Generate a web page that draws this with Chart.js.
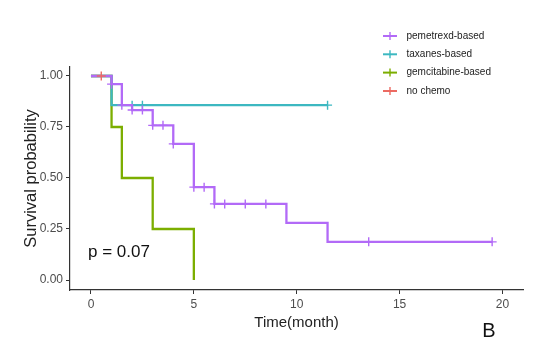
<!DOCTYPE html>
<html>
<head>
<meta charset="utf-8">
<script src="https://cdn.jsdelivr.net/npm/chart.js@4/dist/chart.umd.min.js"></script>
<style>
  html, body { margin: 0; padding: 0; background: #ffffff; }
  #wrap { width: 536px; height: 360px; position: relative; }
</style>
</head>
<body>
<div id="wrap"><canvas id="c" width="536" height="360"></canvas></div>
<script>
// ---- data ----
const groupNames = ['pemetrexd-based', 'taxanes-based', 'gemcitabine-based', 'no chemo'];
const groupColors = ['#B26AF7', '#3DB8C1', '#7CAE00', '#EC6A62'];

// Kaplan-Meier step points (time in months, survival probability)
const pemeTimes = [0, 1, 1.5, 2, 3, 4, 5, 6, 9.5, 11.5, 19.5];
const pemeSurv  = [1, 0.96, 0.857, 0.833, 0.758, 0.667, 0.455, 0.373, 0.28, 0.187, 0.187];
const taxTimes  = [0, 1, 11.5];
const taxSurv   = [1, 0.857, 0.857];
const gemTimes  = [0, 1, 1.5, 3, 5];
const gemSurv   = [1, 0.75, 0.5, 0.25, 0];
const noTimes   = [0, 0.5];
const noSurv    = [1, 1];

// censor marks
const pemeCensorTimes = [1, 1.5, 2, 2.5, 3, 3.5, 4, 5, 5.5, 6, 6.5, 7.5, 8.5, 13.5, 19.5];
const pemeCensorSurv  = [0.96, 0.857, 0.833, 0.833, 0.758, 0.758, 0.667, 0.455, 0.455, 0.373, 0.373, 0.373, 0.373, 0.187, 0.187];
const taxCensorTimes  = [2, 2.5, 11.5];
const taxCensorSurv   = [0.857, 0.857, 0.857];
const noCensorTimes   = [0.5];
const noCensorSurv    = [1];

const xTicks = [0, 5, 10, 15, 20];
const yTicks = [0, 0.25, 0.5, 0.75, 1];
const xTitle = 'Time(month)';
const yTitle = 'Survival probability';
const pText = 'p = 0.07';
const panelLabel = 'B';

// ---- build ----
const FONT = "'Liberation Sans', Arial, sans-serif";
const pts = (xs, ys) => xs.map((x, i) => ({ x: x, y: ys[i] }));

function stepSet(label, xs, ys, color, order) {
  return {
    label: label, data: pts(xs, ys), borderColor: color, backgroundColor: color,
    borderWidth: 2.3, pointRadius: 0, stepped: true, fill: false, order: order
  };
}
function censorSet(xs, ys, color, order) {
  return {
    label: '', data: pts(xs, ys), borderColor: color, backgroundColor: color,
    showLine: false, pointStyle: 'cross', pointRadius: 4.5, borderWidth: 1.4,
    pointHoverRadius: 0, order: order
  };
}

// lower order = drawn on top
const datasets = [
  stepSet(groupNames[0], pemeTimes, pemeSurv, groupColors[0], 3),
  censorSet(pemeCensorTimes, pemeCensorSurv, groupColors[0], 2),
  stepSet(groupNames[1], taxTimes, taxSurv, groupColors[1], 5),
  censorSet(taxCensorTimes, taxCensorSurv, groupColors[1], 4),
  stepSet(groupNames[2], gemTimes, gemSurv, groupColors[2], 6),
  stepSet(groupNames[3], noTimes, noSurv, groupColors[3], 7),
  censorSet(noCensorTimes, noCensorSurv, groupColors[3], 0)
];

const extras = {
  id: 'extras',
  afterDraw(chart) {
    const ctx = chart.ctx;
    const ca = chart.chartArea;
    ctx.save();
    // p-value
    ctx.fillStyle = '#111';
    ctx.font = '17px ' + FONT;
    ctx.textAlign = 'left';
    ctx.textBaseline = 'alphabetic';
    ctx.fillText(pText, ca.left + 18, ca.bottom - 33);
    // panel label
    ctx.font = '20px ' + FONT;
    ctx.textAlign = 'center';
    ctx.textBaseline = 'middle';
    ctx.fillText(panelLabel, 489, 331);
    // legend
    const lx = 383, tx = 406.5;
    const rows = [36, 54.3, 72.6, 91];
    ctx.font = '10px ' + FONT;
    ctx.textAlign = 'left';
    ctx.textBaseline = 'middle';
    groupNames.forEach((name, i) => {
      const y = rows[i];
      ctx.strokeStyle = groupColors[i];
      ctx.lineWidth = 2;
      ctx.beginPath();
      ctx.moveTo(lx, y); ctx.lineTo(lx + 14, y);
      ctx.stroke();
      ctx.lineWidth = 1.4;
      ctx.beginPath();
      ctx.moveTo(lx + 7, y - 4); ctx.lineTo(lx + 7, y + 4);
      ctx.stroke();
      ctx.fillStyle = '#222';
      ctx.fillText(name, tx, y);
    });
    ctx.restore();
  }
};

new Chart(document.getElementById('c'), {
  type: 'line',
  data: { datasets: datasets },
  options: {
    responsive: false,
    animation: false,
    events: [],
    layout: { padding: { top: 67, right: 13, left: 0, bottom: 0 } },
    plugins: { legend: { display: false }, tooltip: { enabled: false } },
    scales: {
      x: {
        type: 'linear', min: -1.02, max: 21,
        afterBuildTicks: s => { s.ticks = xTicks.map(v => ({ value: v })); },
        afterFit: s => { s.height = 70; },
        ticks: { color: '#4d4d4d', font: { family: FONT, size: 12 }, padding: 3, callback: v => String(v) },
        grid: { display: true, drawOnChartArea: false, tickLength: 4, color: '#333', lineWidth: 1 },
        border: { display: true, color: '#333', width: 1.2 },
        title: { display: true, text: xTitle, color: '#222', font: { family: FONT, size: 15 }, padding: { top: 0, bottom: 28 } }
      },
      y: {
        type: 'linear', min: -0.049, max: 1.044,
        afterBuildTicks: s => { s.ticks = yTicks.map(v => ({ value: v })); },
        afterFit: s => { s.width = 70; },
        ticks: { color: '#4d4d4d', font: { family: FONT, size: 12 }, padding: 3, callback: v => Number(v).toFixed(2) },
        grid: { display: true, drawOnChartArea: false, tickLength: 4, color: '#333', lineWidth: 1 },
        border: { display: true, color: '#333', width: 1.2 },
        title: { display: true, text: yTitle, color: '#222', font: { family: FONT, size: 16.5 }, padding: { top: 22, bottom: 0 } }
      }
    }
  },
  plugins: [extras]
});
</script>
</body>
</html>
